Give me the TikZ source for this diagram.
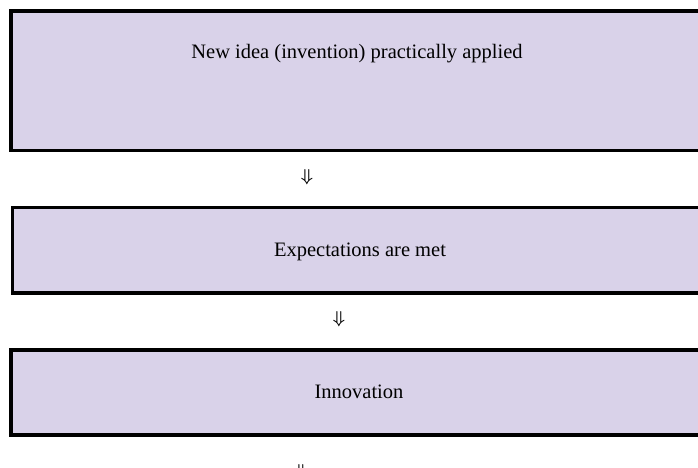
\documentclass[tikz,border=0pt]{standalone}
\usepackage{amsmath}
\usepackage{amssymb}
\usepackage{fontspec}
\setmainfont{Liberation Serif}
\usepackage{tikz}
\usetikzlibrary{arrows,positioning,shapes,calc}
\definecolor{boxfill}{RGB}{217,210,233}

\begin{document}
\begin{tikzpicture}[x=1pt,y=-1pt,
    stagebox/.style={draw=black,line width=3.6pt,fill=boxfill},
    stagetext/.style={font=\fontsize{20.5}{24}\selectfont,inner sep=0pt,anchor=base},
    downsym/.style={font=\fontsize{19}{19}\selectfont,inner sep=0pt}]
      \useasboundingbox (0,0) rectangle (698,468);
      \clip (0,0) rectangle (698,468);

      \draw[stagebox] (11,11) rectangle (720,150.5) node (idea) {};
      \draw[stagebox] (12.5,207.5) rectangle (720,293) node (expect) {};
      \draw[stagebox] (11,350) rectangle (720,435) node (innov) {};

      \node[stagetext] (ideatext) at (357,59) {New idea (invention) practically applied};
      \node[stagetext] (expecttext) at (360,256) {Expectations are met};
      \node[stagetext] (innovtext) at (359,398.5) {Innovation};

      \node[downsym] (down1) at (307,177) {$\boldsymbol{\Downarrow}$};
      \node[downsym] (down2) at (339,319) {$\boldsymbol{\Downarrow}$};
      \node[downsym] (down3) at (301,472) {$\boldsymbol{\Downarrow}$};

    \end{tikzpicture}
\end{document}
